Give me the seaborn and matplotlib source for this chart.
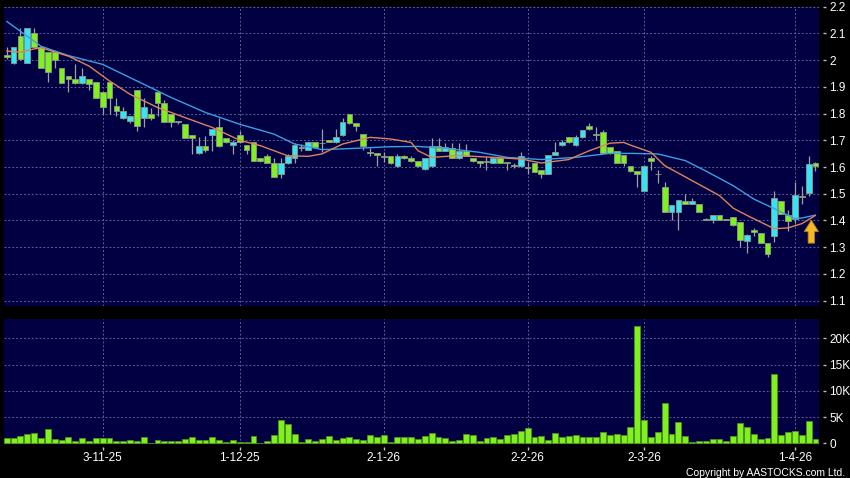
import numpy as np
import pandas as pd
import matplotlib
matplotlib.use("Agg")
import matplotlib.pyplot as plt
from matplotlib.ticker import FuncFormatter
import seaborn as sns

# daily candles (open / high / low / close), one per trading day
opens = [2.02, 1.99, 2.09, 1.99, 2.10, 2.05, 2.03, 2.03, 1.97, 1.94,
         1.93, 1.915, 1.93, 1.92, 1.88, 1.92, 1.83, 1.782, 1.773, 1.89,
         1.782, 1.80, 1.88, 1.84, 1.80, 1.77, 1.76, 1.72, 1.652, 1.68,
         1.72, 1.75, 1.71, 1.682, 1.72, 1.682, 1.692, 1.633, 1.643, 1.614,
         1.574, 1.614, 1.634, 1.675, 1.664, 1.692, 1.69, 1.70, 1.692, 1.72,
         1.80, 1.764, 1.723, 1.655, 1.652, 1.64, 1.643, 1.603, 1.643, 1.633,
         1.622, 1.593, 1.603, 1.68, 1.661, 1.671, 1.634, 1.661, 1.633, 1.624,
         1.62, 1.615, 1.633, 1.62, 1.605, 1.603, 1.60, 1.615, 1.587, 1.574,
         1.645, 1.682, 1.711, 1.682, 1.711, 1.752, 1.723, 1.732, 1.674, 1.661,
         1.645, 1.603, 1.584, 1.512, 1.633, 1.574, 1.525, 1.432, 1.432, 1.471,
         1.463, 1.463, 1.404, 1.403, 1.421, 1.404, 1.413, 1.394, 1.324, 1.366,
         1.353, 1.314, 1.342, 1.471, 1.421, 1.404, 1.49, 1.504, 1.615]
highs = [2.05, 2.05, 2.12, 2.12, 2.12, 2.05, 2.03, 2.035, 1.97, 1.94,
         1.985, 1.97, 1.93, 1.92, 1.88, 1.92, 1.86, 1.825, 1.79, 1.89,
         1.86, 1.82, 1.88, 1.85, 1.80, 1.77, 1.76, 1.72, 1.711, 1.715,
         1.742, 1.785, 1.71, 1.70, 1.733, 1.682, 1.692, 1.633, 1.65, 1.635,
         1.635, 1.65, 1.69, 1.685, 1.692, 1.692, 1.742, 1.70, 1.742, 1.785,
         1.80, 1.764, 1.723, 1.67, 1.652, 1.655, 1.643, 1.65, 1.645, 1.64,
         1.622, 1.633, 1.707, 1.707, 1.69, 1.69, 1.69, 1.685, 1.633, 1.624,
         1.637, 1.633, 1.633, 1.62, 1.615, 1.655, 1.62, 1.615, 1.587, 1.645,
         1.695, 1.70, 1.711, 1.72, 1.74, 1.763, 1.75, 1.74, 1.674, 1.661,
         1.645, 1.603, 1.584, 1.603, 1.64, 1.588, 1.545, 1.459, 1.475, 1.50,
         1.485, 1.463, 1.41, 1.421, 1.421, 1.404, 1.413, 1.394, 1.35, 1.37,
         1.353, 1.314, 1.51, 1.471, 1.44, 1.545, 1.53, 1.64, 1.62]
lows = [2.005, 1.985, 2.00, 1.99, 2.05, 1.97, 1.92, 1.97, 1.915, 1.88,
        1.91, 1.91, 1.89, 1.86, 1.80, 1.80, 1.79, 1.78, 1.765, 1.733,
        1.75, 1.775, 1.79, 1.77, 1.75, 1.76, 1.71, 1.65, 1.65, 1.655,
        1.66, 1.675, 1.69, 1.65, 1.69, 1.65, 1.622, 1.62, 1.615, 1.562,
        1.56, 1.61, 1.615, 1.66, 1.664, 1.674, 1.655, 1.692, 1.69, 1.715,
        1.76, 1.733, 1.665, 1.64, 1.605, 1.62, 1.61, 1.60, 1.63, 1.62,
        1.60, 1.59, 1.60, 1.66, 1.66, 1.633, 1.63, 1.643, 1.62, 1.60,
        1.59, 1.615, 1.615, 1.59, 1.595, 1.60, 1.574, 1.58, 1.56, 1.574,
        1.645, 1.68, 1.69, 1.68, 1.71, 1.74, 1.70, 1.653, 1.65, 1.615,
        1.604, 1.58, 1.525, 1.51, 1.59, 1.54, 1.432, 1.40, 1.363, 1.46,
        1.46, 1.432, 1.40, 1.39, 1.403, 1.40, 1.38, 1.30, 1.28, 1.34,
        1.314, 1.265, 1.32, 1.425, 1.36, 1.39, 1.46, 1.49, 1.585]
closes = [2.01, 2.05, 2.005, 2.12, 2.05, 1.97, 1.955, 2.00, 1.915, 1.93,
          1.915, 1.94, 1.91, 1.86, 1.825, 1.86, 1.81, 1.81, 1.79, 1.752,
          1.823, 1.783, 1.84, 1.77, 1.77, 1.768, 1.71, 1.71, 1.68, 1.665,
          1.742, 1.68, 1.693, 1.692, 1.692, 1.662, 1.622, 1.622, 1.615, 1.562,
          1.614, 1.64, 1.682, 1.672, 1.692, 1.674, 1.688, 1.692, 1.711, 1.77,
          1.765, 1.752, 1.68, 1.653, 1.646, 1.638, 1.615, 1.643, 1.635, 1.621,
          1.603, 1.633, 1.677, 1.661, 1.674, 1.633, 1.661, 1.643, 1.621, 1.615,
          1.618, 1.633, 1.615, 1.614, 1.603, 1.643, 1.598, 1.583, 1.574, 1.645,
          1.655, 1.695, 1.692, 1.711, 1.74, 1.742, 1.721, 1.653, 1.653, 1.615,
          1.615, 1.584, 1.572, 1.603, 1.622, 1.572, 1.432, 1.459, 1.475, 1.463,
          1.471, 1.432, 1.402, 1.421, 1.403, 1.402, 1.382, 1.326, 1.345, 1.355,
          1.314, 1.276, 1.484, 1.425, 1.397, 1.494, 1.488, 1.612, 1.605]
volumes = [950, 950, 1400, 1800, 2000, 950, 2700, 760, 630, 1200,
           380, 950, 500, 950, 1080, 1000, 500, 500, 630, 380,
           1140, 130, 570, 440, 440, 440, 760, 1200, 630, 630,
           1200, 630, 250, 700, 190, 250, 1450, 130, 440, 1520,
           4430, 3670, 1710, 320, 890, 500, 820, 1330, 700, 1080,
           1270, 890, 700, 1580, 1140, 1580, 190, 1270, 1140, 1140,
           760, 1400, 1900, 1140, 950, 500, 630, 1840, 1580, 380,
           1000, 1200, 890, 1650, 1840, 2400, 2860, 1200, 1330, 700,
           1900, 1270, 1400, 1520, 1270, 1270, 1270, 2220, 1650, 1780,
           1520, 3050, 22400, 4500, 1270, 2100, 7750, 1780, 4130, 1400,
           320, 500, 500, 820, 760, 440, 1330, 3870, 3170, 1780,
           760, 1080, 13200, 1650, 2220, 2290, 1520, 4190, 890]

# moving averages (day index, value)
ma_long_day = [0, 2, 5, 9, 14, 19, 24, 29, 34, 39, 42, 46, 51, 56, 60, 64,
               69, 73, 78, 83, 88, 91, 95, 99, 102, 106, 109, 112, 115, 116, 118]
ma_long = [2.145, 2.108, 2.052, 2.017, 1.984, 1.922, 1.86, 1.804, 1.76, 1.723,
           1.686, 1.665, 1.67, 1.676, 1.677, 1.67, 1.655, 1.636, 1.628, 1.636,
           1.651, 1.651, 1.649, 1.624, 1.585, 1.53, 1.48, 1.444, 1.407, 1.409, 1.42]
ma_short_day = [0, 2, 4, 5, 9, 12, 15, 18, 22, 26, 30, 34, 37, 41, 44, 46, 49,
                53, 56, 59, 60, 62, 66, 71, 75, 78, 82, 85, 88, 90, 91, 94, 96,
                100, 104, 106, 108, 112, 114, 116, 118]
ma_short = [2.034, 2.03, 2.042, 2.046, 2.015, 1.978, 1.922, 1.872, 1.823, 1.785,
            1.748, 1.70, 1.68, 1.642, 1.64, 1.649, 1.686, 1.711, 1.705, 1.692,
            1.661, 1.636, 1.643, 1.636, 1.63, 1.615, 1.628, 1.661, 1.689, 1.692,
            1.682, 1.655, 1.605, 1.549, 1.493, 1.446, 1.419, 1.369, 1.372, 1.388, 1.419]

tick_days = [14, 34, 55, 76, 93, 115]
tick_labels = ["3-11-25", "1-12-25", "2-1-26", "2-2-26", "2-3-26", "1-4-26"]

sns.set_theme(style="dark")
plt.rcParams["font.family"] = ["Liberation Sans", "DejaVu Sans"]

BG = "#000042"
GRID = "#5e5e90"
GREEN = "#80f020"
CYAN = "#38e4f4"

df = pd.DataFrame({"o": opens, "h": highs, "l": lows, "c": closes, "v": volumes})
df["day"] = np.arange(len(df))
up = df["c"] > df["o"]

fig = plt.figure(figsize=(8.5, 4.78), dpi=100, facecolor="black")
ax = fig.add_axes([0.0047, 0.3605, 0.9592, 0.6255])
axv = fig.add_axes([0.0047, 0.0715, 0.9592, 0.261])

for a in (ax, axv):
    a.set_facecolor(BG)
    for s in a.spines.values():
        s.set_visible(False)
    a.grid(True, color=GRID, linestyle=(0, (2, 2)), linewidth=0.7)
    a.set_axisbelow(True)
    a.yaxis.tick_right()
    a.spines["right"].set_position(("outward", 3))
    a.tick_params(axis="y", right=True, left=False, labelright=True, labelleft=False,
                  length=2.5, width=1, color="#b8b8b8", labelcolor="white",
                  labelsize=8.5, pad=1.5, direction="out")

# candles
ax.vlines(df["day"], df["l"], df["h"], color="#a0a0a0", linewidth=0.9, zorder=2)
bottoms = np.minimum(df["o"], df["c"])
heights = np.maximum((df["c"] - df["o"]).abs(), 0.003)
ax.bar(df["day"], heights, bottom=bottoms, width=0.84,
       color=np.where(up, CYAN, GREEN), edgecolor="#8a9a8a", linewidth=0.6, zorder=3)

sns.lineplot(x=ma_long_day, y=ma_long, ax=ax, color="#3a9fe6", linewidth=1.0, zorder=4)
sns.lineplot(x=ma_short_day, y=ma_short, ax=ax, color="#e0825c", linewidth=1.0, zorder=4)

ax.arrow(117.4, 1.315, 0, 0.086, width=0.95, head_width=2.1, head_length=0.043,
         length_includes_head=True, facecolor="#f6b824", edgecolor="#b07a10",
         linewidth=0.6, zorder=5)

ax.set_xlim(-0.4, 118.56)
ax.set_ylim(1.081, 2.2)
ax.set_yticks(np.arange(1.1, 2.21, 0.1))
ax.yaxis.set_major_formatter(FuncFormatter(lambda v, p: f"{round(v, 1):g}"))
ax.set_xticks(tick_days)
ax.tick_params(axis="x", bottom=False, labelbottom=False)
ax.set_xlabel("")
ax.set_ylabel("")

# volume
sns.barplot(x=df["day"], y=df["v"], native_scale=True, ax=axv, color=GREEN,
            saturation=1, width=0.86, edgecolor="#4f9a16", linewidth=0.5, zorder=3)
axv.set_xlim(-0.4, 118.56)
axv.set_ylim(-100, 23680)
axv.set_yticks([0, 5000, 10000, 15000, 20000])
axv.yaxis.set_major_formatter(FuncFormatter(lambda v, p: "0" if v == 0 else f"{int(v / 1000)}K"))
axv.set_xticks(tick_days)
axv.set_xticklabels(tick_labels)
axv.spines["bottom"].set_position(("outward", 2))
axv.tick_params(axis="x", bottom=True, length=2.5, width=1, color="#c8c8c8",
                labelcolor="white", labelsize=8.5, pad=1.5, direction="out")
axv.set_xlabel("")
axv.set_ylabel("")

fig.text(0.994, 0.0045, "Copyright by AASTOCKS.com Ltd.", ha="right", va="baseline",
         color="white", fontsize=7.5)

fig.savefig("out.png", dpi=100, facecolor="black")
